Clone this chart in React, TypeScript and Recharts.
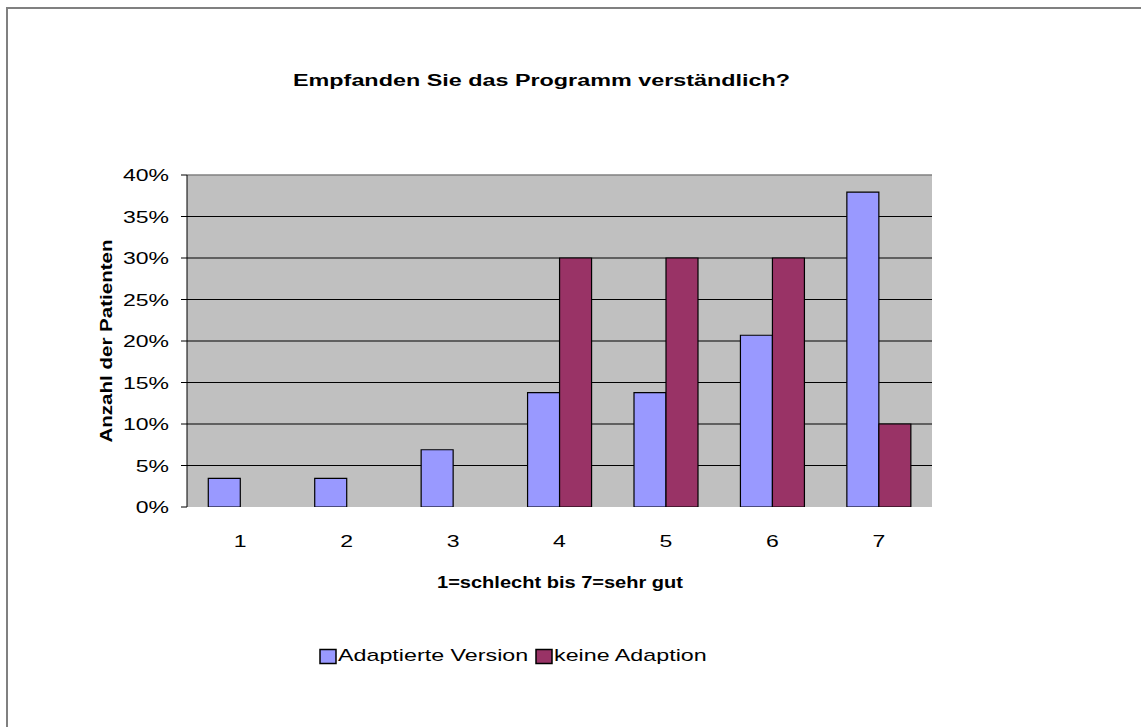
import React from 'react';
import { BarChart, Bar, XAxis, YAxis, CartesianGrid, ReferenceLine } from 'recharts';

const CATEGORIES = ['1', '2', '3', '4', '5', '6', '7'];
const ADAPTED = [3.45, 3.45, 6.9, 13.79, 13.79, 20.69, 37.93];
const NO_ADAPTION = [0, 0, 0, 30, 30, 30, 10];
const Y_TICKS = [0, 5, 10, 15, 20, 25, 30, 35, 40];
const GRID_VALUES = [5, 10, 15, 20, 25, 30, 35];
const EDGE_TICKS = [0, 1, 2, 3, 4, 5, 6, 7];

const SERIES = [
  { key: 'adapted', name: 'Adaptierte Version', color: '#9999FF' },
  { key: 'none', name: 'keine Adaption', color: '#993366' },
];

const FONT = '"Liberation Sans", Arial, sans-serif';
const W = 1141;
const H = 727;

const data = CATEGORIES.map((cat, i) => ({
  cat,
  adapted: ADAPTED[i],
  none: NO_ADAPTION[i],
}));

// text in the original is drawn wide, so glyphs get stretched sideways
const YTick = ({ x, y, payload }: any) => (
  <text
    transform={`translate(${x},${y + 6}) scale(1.44,1)`}
    textAnchor="end"
    fontSize={16}
    fontFamily={FONT}
    fill="#000"
  >
    {`${payload.value}%`}
  </text>
);

const XTick = ({ x, y, payload }: any) => (
  <text
    transform={`translate(${x},${y + 40}) scale(1.44,1)`}
    textAnchor="middle"
    fontSize={16}
    fontFamily={FONT}
    fill="#000"
  >
    {payload.value}
  </text>
);

const NoTick = () => <g />;

const LEGEND_X = [320, 536];

export default function App() {
  return (
    <div style={{ position: 'absolute', left: 0, top: 0, width: W, height: H, background: '#fff' }}>
      <div
        style={{
          position: 'absolute',
          left: 6,
          top: 7,
          width: W - 6,
          height: H - 7,
          boxSizing: 'border-box',
          borderTop: '2px solid #808080',
          borderLeft: '2px solid #808080',
        }}
      />
      <BarChart
        width={W}
        height={H}
        data={data}
        margin={{ top: 175, right: 209, bottom: 180, left: 127 }}
        barCategoryGap="20%"
        barGap={0}
        style={{ position: 'absolute', left: 0, top: 0 }}
      >
        <CartesianGrid
          xAxisId="cat"
          vertical={false}
          horizontalValues={GRID_VALUES}
          stroke="#000"
          fill="#C0C0C0"
          fillOpacity={1}
        />
        <XAxis
          xAxisId="edge"
          type="number"
          domain={[0, 7]}
          ticks={EDGE_TICKS}
          allowDataOverflow
          height={0}
          tick={NoTick}
          tickSize={6}
          tickLine={{ stroke: '#000' }}
          axisLine={{ stroke: '#000' }}
        />
        <XAxis
          xAxisId="cat"
          dataKey="cat"
          height={40}
          tick={XTick}
          tickSize={0}
          tickMargin={0}
          tickLine={false}
          axisLine={false}
        />
        <YAxis
          width={60}
          domain={[0, 40]}
          ticks={Y_TICKS}
          allowDataOverflow
          tick={YTick}
          tickSize={6}
          tickMargin={12}
          tickLine={{ stroke: '#000' }}
          axisLine={{ stroke: '#000' }}
        />
        <ReferenceLine y={40} xAxisId="cat" stroke="#808080" strokeWidth={1.5} />
        <ReferenceLine x={7} xAxisId="edge" stroke="#808080" strokeWidth={1.5} />
        {SERIES.map((s) => (
          <Bar
            key={s.key}
            xAxisId="cat"
            dataKey={s.key}
            name={s.name}
            fill={s.color}
            stroke="#000"
            strokeWidth={1.2}
            isAnimationActive={false}
          />
        ))}
      </BarChart>
      <svg
        width={W}
        height={H}
        style={{ position: 'absolute', left: 0, top: 0, pointerEvents: 'none' }}
        fontFamily={FONT}
      >
        <text
          x={541.5}
          y={85.5}
          textAnchor="middle"
          fontSize={16}
          fontWeight="bold"
          textLength={497}
          lengthAdjust="spacingAndGlyphs"
        >
          Empfanden Sie das Programm verständlich?
        </text>
        <text
          x={560}
          y={588}
          textAnchor="middle"
          fontSize={16}
          fontWeight="bold"
          textLength={246}
          lengthAdjust="spacingAndGlyphs"
        >
          1=schlecht bis 7=sehr gut
        </text>
        <text
          transform="translate(112,341) rotate(-90)"
          textAnchor="middle"
          fontSize={17}
          fontWeight="bold"
          textLength={203}
          lengthAdjust="spacingAndGlyphs"
        >
          Anzahl der Patienten
        </text>
        {SERIES.map((s, i) => (
          <g key={s.key}>
            <rect x={LEGEND_X[i]} y={649.5} width={16} height={14} fill={s.color} stroke="#000" strokeWidth={1.5} />
            <text
              transform={`translate(${LEGEND_X[i] + 18},661) scale(1.455,1)`}
              fontSize={16}
              fill="#000"
            >
              {s.name}
            </text>
          </g>
        ))}
      </svg>
    </div>
  );
}
